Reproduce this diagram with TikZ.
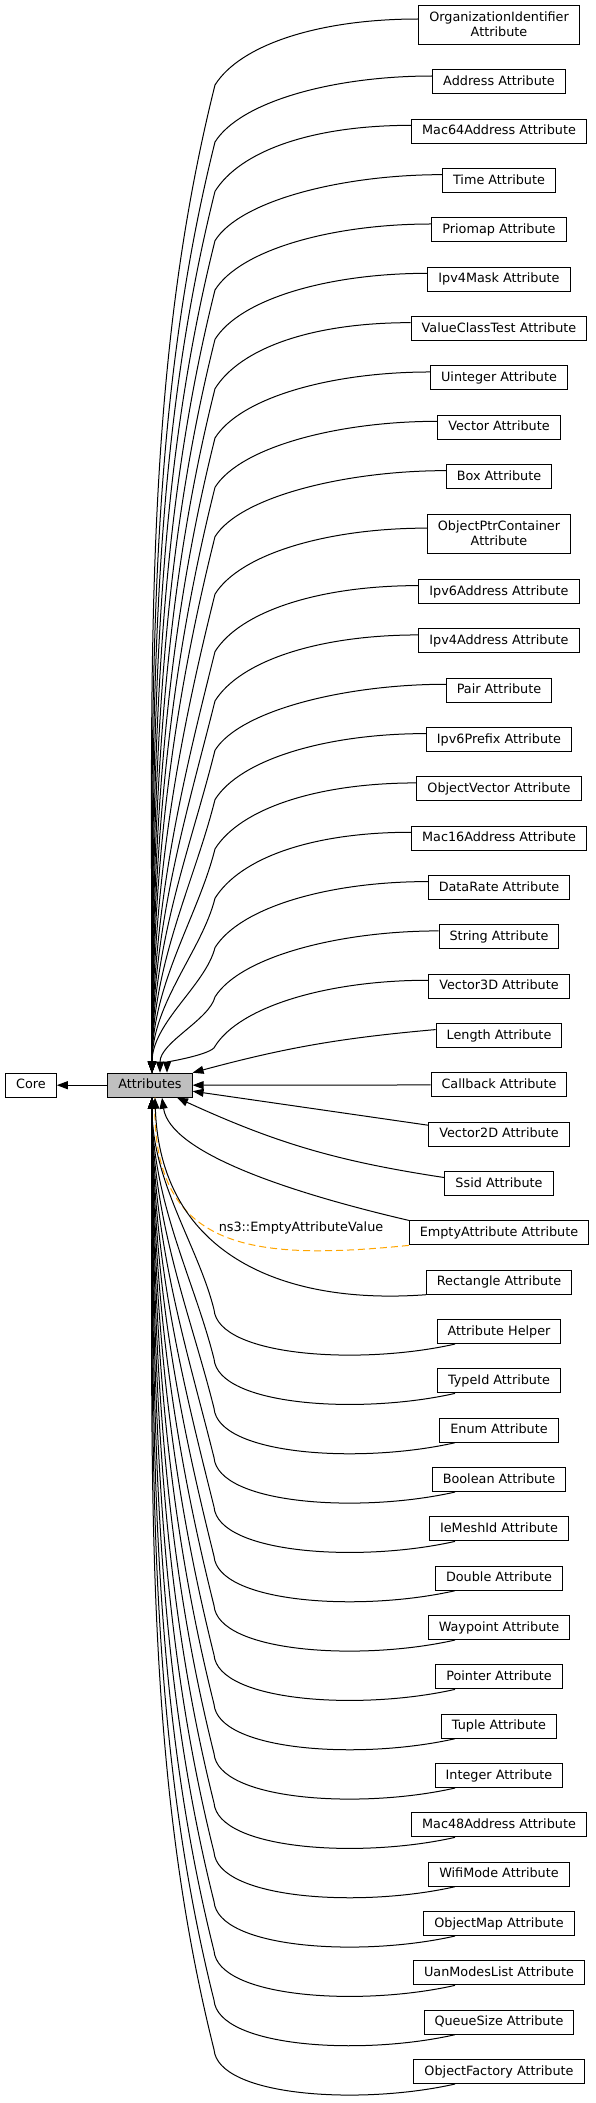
\documentclass[tikz,border=0pt]{standalone}
\usepackage{fontspec}
\setmainfont{DejaVu Sans}
\usetikzlibrary{arrows.meta,calc}
\definecolor{tmplorange}{HTML}{FFA500}
\definecolor{curgray}{HTML}{BFBFBF}
\tikzset{
  cls/.style={draw, line width=1pt, align=center, inner xsep=10.5pt, inner ysep=5.5pt,
    minimum height=24pt, font=\fontsize{12.8}{15}\selectfont,
    execute at begin node={\vphantom{Ay}}},
  dep/.style={line width=1pt, -{Triangle[length=11pt,width=8pt]}},
  tmpl/.style={line width=1pt, tmplorange, dash pattern=on 7pt off 4pt},
  declare function={rowy(\k)=82+49.33*(\k-1)+8.15*(\k>9)+8.15*(\k>10)-7.67*(\k<1);}
}
\begin{document}
\begin{tikzpicture}[x=1pt,y=-1pt]
  \useasboundingbox (0,0) rectangle (596,2103);
  \node[cls] (core) at (31,1085.2) {Core};
  \node[cls, fill=curgray] (attr) at (150,1085.2) {Attributes};
  \foreach \nm/\txt [count=\i from 0] in {orgid/{OrganizationIdentifier\\Attribute},
      addr/Address Attribute, mac64/Mac64Address Attribute, time/Time Attribute,
      priomap/Priomap Attribute, ipv4mask/Ipv4Mask Attribute,
      valclass/ValueClassTest Attribute, uint/Uinteger Attribute, vector/Vector Attribute,
      box/Box Attribute, objptr/{ObjectPtrContainer\\Attribute},
      ipv6addr/Ipv6Address Attribute, ipv4addr/Ipv4Address Attribute, pair/Pair Attribute,
      ipv6pfx/Ipv6Prefix Attribute, objvec/ObjectVector Attribute,
      mac16/Mac16Address Attribute, datarate/DataRate Attribute, string/String Attribute,
      vec3d/Vector3D Attribute, length/Length Attribute, callback/Callback Attribute,
      vec2d/Vector2D Attribute, ssid/Ssid Attribute, empty/EmptyAttribute Attribute,
      rect/Rectangle Attribute, helper/Attribute Helper, typeid/TypeId Attribute,
      enum/Enum Attribute, bool/Boolean Attribute, meshid/IeMeshId Attribute,
      double/Double Attribute, waypoint/Waypoint Attribute, pointer/Pointer Attribute,
      tuple/Tuple Attribute, integer/Integer Attribute, mac48/Mac48Address Attribute,
      wifimode/WifiMode Attribute, objmap/ObjectMap Attribute,
      uanmodes/UanModesList Attribute, queuesize/QueueSize Attribute,
      objfactory/ObjectFactory Attribute}
    \node[cls] (\nm) at (499,{rowy(\i)}) {\txt};

  % group edge
  \draw[dep] (attr) -- (core);

  % template edge
  \draw[tmpl] (empty.south west) .. controls +(-160,16) and +(-5,152) .. ([xshift=5pt]attr.south);
  \node[font=\fontsize{12.8}{15}\selectfont] (tmpllabel) at (301,1228) {ns3::EmptyAttributeValue};

  % upper fan
  \foreach \nm [count=\i from 0] in {orgid,addr,mac64,time,priomap,ipv4mask,valclass,uint,
      vector,box,objptr,ipv6addr,ipv4addr,pair,ipv6pfx,objvec,mac16,datarate,string,vec3d} {
    \pgfmathsetmacro\yc{rowy(\i)}
    \pgfmathsetmacro\L{0.3*(1013-\yc)}
    \pgfmathsetmacro\tx{2+8*(\i>17)+7*(\i>18)}
    \draw[dep] ([yshift=6pt]\nm.west) .. controls +(-100,0) and +(25,-40) .. (215,\yc+60)
      .. controls +(-0.25*\L,\L) and +(0,-1.33*\L) .. ([xshift=\tx pt]attr.north);
  }

  % middle
  \draw[dep] ([yshift=6pt]length.west) to[bend right=5] (attr.north east);
  \draw[dep] (callback) -- (attr);
  \draw[dep] ([yshift=9pt]vec2d.west) -- ([yshift=-6pt]attr.east);
  \draw[dep] ([yshift=6pt]ssid.west) to[bend left=8] ([xshift=27pt]attr.south);
  \draw[dep] (empty.north west) .. controls +(-120,-28) and +(8,55) .. ([xshift=12pt]attr.south);
  \draw[dep] (rect.south west) .. controls +(-150,11) and +(5,152) .. ([xshift=5pt]attr.south);

  % lower fan
  \foreach \nm [count=\i from 26] in {helper,typeid,enum,bool,meshid,double,waypoint,pointer,
      tuple,integer,mac48,wifimode,objmap,uanmodes,queuesize,objfactory} {
    \pgfmathsetmacro\yc{rowy(\i)}
    \pgfmathsetmacro\L{0.3*(\yc-1120)}
    \draw[dep] ([xshift=-44pt]\nm.south) .. controls +(-95,21.5) and +(4,47) .. (214,\yc-22)
      .. controls +(-0.25*\L,-\L) and +(0,1.33*\L) .. ([xshift=2pt]attr.south);
  }
\end{tikzpicture}
\end{document}
